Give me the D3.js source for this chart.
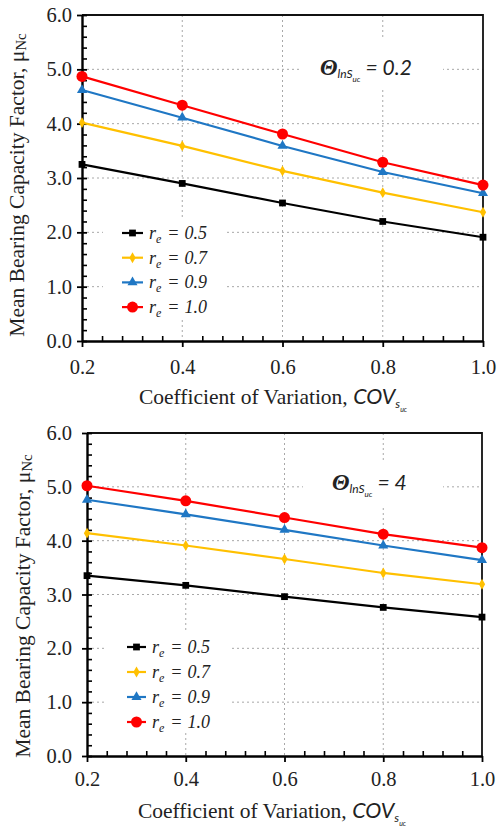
<!DOCTYPE html>
<html>
<head>
<meta charset="utf-8">
<script src="https://cdn.jsdelivr.net/npm/d3@7"></script>
<style>
  body { margin: 0; background: #fff; }
  svg { display: block; }
</style>
</head>
<body>
<svg id="chart" width="497" height="827"></svg>
<script>
// Coefficient of variation of undrained strength (x values)
const covLevels = [0.2, 0.4, 0.6, 0.8, 1.0];
const xTickValues = [0.2, 0.4, 0.6, 0.8, 1.0];
const yTickValues = [0, 1, 2, 3, 4, 5, 6];
const reLabels = ["0.5", "0.7", "0.9", "1.0"];
const thetaLabels = ["0.2", "4"];

// Mean bearing capacity factor, correlation length 0.2
const theta02_re05 = [3.25, 2.90, 2.54, 2.20, 1.91];
const theta02_re07 = [4.02, 3.59, 3.13, 2.73, 2.37];
const theta02_re09 = [4.62, 4.11, 3.59, 3.11, 2.72];
const theta02_re10 = [4.87, 4.34, 3.81, 3.29, 2.87];

// Mean bearing capacity factor, correlation length 4
const theta4_re05 = [3.35, 3.17, 2.96, 2.76, 2.58];
const theta4_re07 = [4.14, 3.91, 3.66, 3.40, 3.19];
const theta4_re09 = [4.76, 4.49, 4.20, 3.91, 3.64];
const theta4_re10 = [5.02, 4.74, 4.43, 4.12, 3.87];

const seriesStyles = [
  { color: "#000000", symbol: d3.symbolSquare, size: 46 },
  { color: "#FFC000", symbol: d3.symbolDiamond, size: 34 },
  { color: "#1F77C4", symbol: d3.symbolTriangle, size: 44 },
  { color: "#FF0000", symbol: d3.symbolCircle, size: 95 }
];

const panels = [
  {
    theta: thetaLabels[0],
    series: [theta02_re05, theta02_re07, theta02_re09, theta02_re10],
    left: 82, right: 483, top: 15, bottom: 341,
    yLabelGap: 5, xLabelGap: 12,
    yTitle: { x: 16, y: 185 },
    xTitle: { x: 273, y: 404 },
    legend: { x: 103, y: 217, w: 124, h: 103, row0: 233, step: 24.7, lineX0: 122, lineX1: 143, textX: 149 },
    note: { x: 302, y: 37, w: 141, h: 53, tx: 320, ty: 75 }
  },
  {
    theta: thetaLabels[1],
    series: [theta4_re05, theta4_re07, theta4_re09, theta4_re10],
    left: 87, right: 482, top: 433, bottom: 756,
    yLabelGap: 10, xLabelGap: 9,
    yTitle: { x: 22, y: 606 },
    xTitle: { x: 272, y: 818 },
    legend: { x: 107, y: 632, w: 123, h: 101, row0: 647, step: 25, lineX0: 127, lineX1: 146, textX: 152 },
    note: { x: 303, y: 463, w: 140, h: 45, tx: 332, ty: 490 }
  }
];

const svg = d3.select("#chart");
const serif = "'Liberation Serif', 'Times New Roman', serif";
const sans = "Lato, 'Liberation Sans', sans-serif";

panels.forEach(p => {
  const x = d3.scaleLinear().domain([0.2, 1.0]).range([p.left, p.right]);
  const y = d3.scaleLinear().domain([0, 6]).range([p.bottom, p.top]);
  const g = svg.append("g");

  // dotted grid
  const grid = g.append("g").attr("stroke", "#a8a8a8").attr("stroke-width", 1)
    .attr("stroke-dasharray", "2,3").attr("fill", "none");
  grid.selectAll("line.h").data([1, 2, 3, 4, 5]).join("line")
    .attr("x1", p.left).attr("x2", p.right)
    .attr("y1", d => y(d)).attr("y2", d => y(d));
  grid.selectAll("line.v").data([0.4, 0.6, 0.8]).join("line")
    .attr("y1", p.top).attr("y2", p.bottom)
    .attr("x1", d => x(d)).attr("x2", d => x(d));

  // white backing for legend and annotation
  g.append("rect").attr("x", p.legend.x).attr("y", p.legend.y)
    .attr("width", p.legend.w).attr("height", p.legend.h).attr("fill", "#fff");
  g.append("rect").attr("x", p.note.x).attr("y", p.note.y)
    .attr("width", p.note.w).attr("height", p.note.h).attr("fill", "#fff");

  // frame (top and right)
  g.append("path")
    .attr("d", `M${p.left},${p.top}H${p.right}V${p.bottom}`)
    .attr("fill", "none").attr("stroke", "#111").attr("stroke-width", 1.8);

  // minor ticks
  const xMinor = d3.range(21).filter(i => i % 5 !== 0).map(i => 0.2 + i * 0.04);
  const yMinor = d3.range(31).filter(i => i % 5 !== 0).map(i => i * 0.2);
  g.append("g").attr("transform", `translate(0,${p.bottom})`)
    .call(d3.axisBottom(x).tickValues(xMinor).tickSize(-5).tickSizeOuter(0).tickFormat(""))
    .call(a => a.select(".domain").remove())
    .call(a => a.selectAll("line").attr("stroke", "#000").attr("stroke-width", 1.6));
  g.append("g").attr("transform", `translate(${p.left},0)`)
    .call(d3.axisLeft(y).tickValues(yMinor).tickSize(-5).tickSizeOuter(0).tickFormat(""))
    .call(a => a.select(".domain").remove())
    .call(a => a.selectAll("line").attr("stroke", "#000").attr("stroke-width", 1.6));

  // major axes
  const xAxis = g.append("g").attr("transform", `translate(0,${p.bottom})`)
    .call(d3.axisBottom(x).tickValues(xTickValues).tickSize(6).tickSizeOuter(0)
      .tickPadding(p.xLabelGap).tickFormat(d3.format(".1f")));
  const yAxis = g.append("g").attr("transform", `translate(${p.left},0)`)
    .call(d3.axisLeft(y).tickValues(yTickValues).tickSize(5).tickSizeOuter(0)
      .tickPadding(p.yLabelGap).tickFormat(d3.format(".1f")));
  yAxis.selectAll(".tick").append("line").attr("x2", 5);
  [xAxis, yAxis].forEach(a => {
    a.select(".domain").attr("stroke", "#000").attr("stroke-width", 2.4);
    a.selectAll("line").attr("stroke", "#000").attr("stroke-width", 1.8);
    a.selectAll("text").attr("font-family", serif).attr("font-size", 20.5).attr("fill", "#222");
  });

  // series lines and markers
  const line = d3.line().x((d, i) => x(covLevels[i])).y(d => y(d));
  p.series.forEach((vals, k) => {
    const st = seriesStyles[k];
    g.append("path").datum(vals).attr("d", line)
      .attr("fill", "none").attr("stroke", st.color).attr("stroke-width", 2.2);
    g.selectAll(null).data(vals).join("path")
      .attr("transform", (d, i) => `translate(${x(covLevels[i])},${y(d)})`)
      .attr("d", d3.symbol().type(st.symbol).size(st.size))
      .attr("fill", st.color);
  });

  // legend
  const L = p.legend;
  reLabels.forEach((lab, k) => {
    const st = seriesStyles[k];
    const yy = L.row0 + k * L.step;
    g.append("line").attr("x1", L.lineX0).attr("x2", L.lineX1).attr("y1", yy).attr("y2", yy)
      .attr("stroke", st.color).attr("stroke-width", 2.2);
    g.append("path").attr("transform", `translate(${(L.lineX0 + L.lineX1) / 2},${yy})`)
      .attr("d", d3.symbol().type(st.symbol).size(st.size)).attr("fill", st.color);
    const t = g.append("text").attr("x", L.textX).attr("y", yy + 6)
      .attr("font-family", serif).attr("font-style", "italic").attr("font-size", 18).attr("fill", "#222");
    t.append("tspan").text("r");
    t.append("tspan").attr("font-size", 12).attr("dy", 4).text("e");
    t.append("tspan").attr("dy", -4).attr("dx", 6).text("=");
    t.append("tspan").attr("dx", 5).text(lab);
  });

  // correlation length annotation
  const N = p.note;
  const nt = g.append("text").attr("x", N.tx).attr("y", N.ty)
    .attr("font-family", sans).attr("font-style", "italic").attr("font-size", 21).attr("fill", "#222");
  nt.append("tspan").attr("font-family", serif).attr("font-weight", "bold").attr("font-size", 23).text("Θ");
  nt.append("tspan").attr("font-size", 12).attr("dy", 3).text("lnS");
  nt.append("tspan").attr("font-size", 8).attr("dy", 4).text("uc");
  nt.append("tspan").attr("dy", -7).attr("dx", 5).text("= " + p.theta);

  // axis titles
  const xt = g.append("text").attr("x", p.xTitle.x).attr("y", p.xTitle.y)
    .attr("text-anchor", "middle").attr("font-family", serif).attr("font-size", 21.5).attr("fill", "#222");
  xt.append("tspan").text("Coefficient of Variation, ");
  xt.append("tspan").attr("font-family", sans).attr("font-style", "italic").text("COV");
  xt.append("tspan").attr("font-family", sans).attr("font-style", "italic").attr("font-size", 12).attr("dy", 4).text("s");
  xt.append("tspan").attr("font-family", sans).attr("font-style", "italic").attr("font-size", 7).attr("dy", 4).text("uc");

  const yt = g.append("text")
    .attr("transform", `translate(${p.yTitle.x},${p.yTitle.y}) rotate(-90)`)
    .attr("text-anchor", "middle").attr("dy", "0.35em")
    .attr("font-family", serif).attr("font-size", 21.5).attr("fill", "#222");
  yt.append("tspan").text("Mean Bearing Capacity Factor, μ");
  yt.append("tspan").attr("font-size", 15).attr("dy", 2).text("Nc");
});
</script>
</body>
</html>
